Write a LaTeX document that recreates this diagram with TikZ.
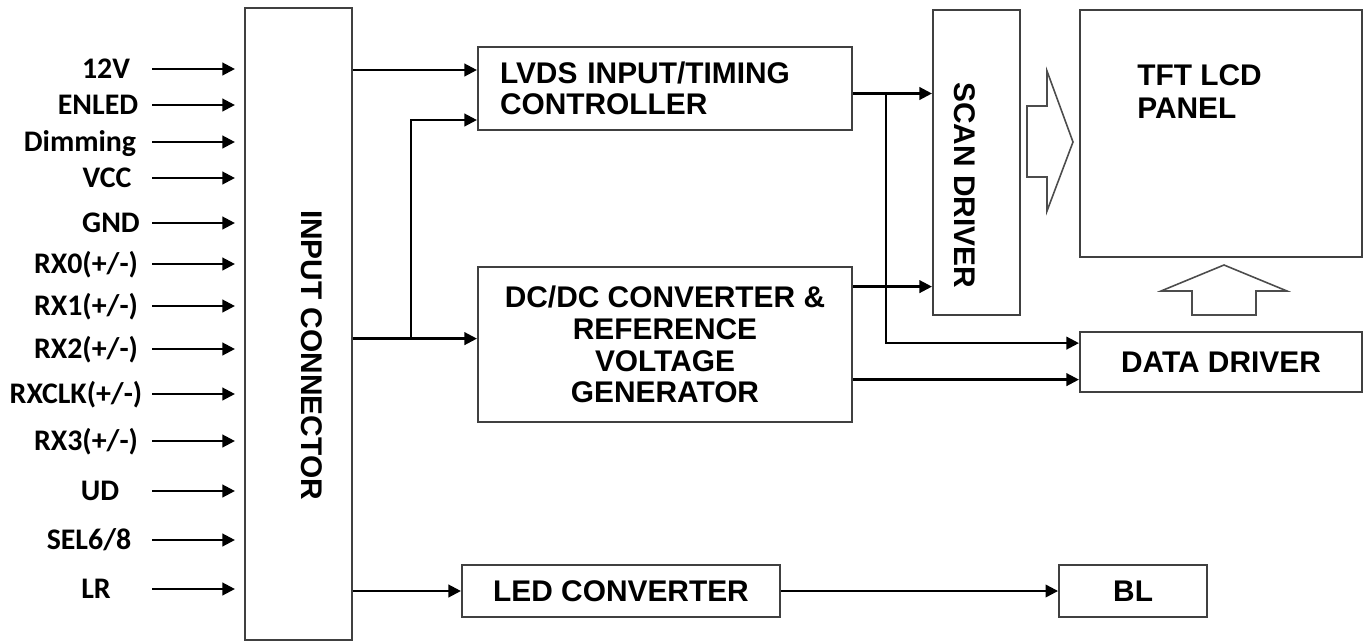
\documentclass[tikz,border=0pt]{standalone}
\usepackage{fontspec}
\setmainfont{Liberation Sans}
\newfontfamily\pinfont{Carlito}
\usepackage{tikz}
\usetikzlibrary{arrows.meta, positioning, calc}

\begin{document}
\begin{tikzpicture}[
    node distance=0.7cm,
    block/.style={draw=black!75, line width=1.2pt, inner sep=0pt, align=center, font=\fontsize{17}{18}\selectfont\bfseries},
    sig/.style={font=\pinfont\fontsize{17}{18}\selectfont\bfseries, text height=0.386cm, text depth=0pt, inner sep=0pt},
    tag/.style={font=\fontsize{17}{18}\selectfont\bfseries, inner sep=0pt},
    line/.style={-{Triangle[length=0.25cm, width=0.25cm]}, line width=1.3pt},
    hollow/.style={draw=black!70, line width=0.9pt, line join=miter}
]
\useasboundingbox (0,0) rectangle (27.38,-12.84);

% Input connector
\node[block, minimum width=2.14cm, minimum height=12.64cm] (conn) at (5.97,-6.48) {};
\node[tag, rotate=-90] (connlbl) at (6.24,-7.1) {INPUT CONNECTOR};

% Input signals
\coordinate (sigstart) at (3.04,0);
\foreach \name/\txt/\x/\y in {v12/12V/2.12/-1.38, enled/ENLED/1.96/-2.1, dim/Dimming/1.6/-2.84,
    vcc/VCC/2.14/-3.56, gnd/GND/2.22/-4.46, rx0/{RX0(+/-)}/1.72/-5.28, rx1/{RX1(+/-)}/1.72/-6.12,
    rx2/{RX2(+/-)}/1.72/-6.98, rxclk/{RXCLK(+/-)}/1.52/-7.88, rx3/{RX3(+/-)}/1.72/-8.82,
    ud/UD/2.0/-9.82, sel/{SEL6/8}/1.78/-10.8, lr/LR/1.92/-11.78}{
    \node[sig] (\name) at (\x,\y) {\txt};
    \draw[line, shorten >=0.18cm] (\name -| sigstart) -- (\name -| conn.west);
}

% Controller and converters
\node[block, minimum width=7.48cm, minimum height=1.66cm, text width=6.6cm, align=left] (lvds) at (13.3,-1.77) {LVDS INPUT/TIMING\\CONTROLLER};
\node[block, minimum width=7.48cm, minimum height=3.1cm, below=2.7cm of lvds] (dcdc) {DC/DC CONVERTER \&\\REFERENCE\\VOLTAGE\\GENERATOR};
\node[block, minimum width=6.36cm, minimum height=1.04cm] (led) at (12.42,-11.82) {LED CONVERTER};
\node[block, minimum width=2.96cm, minimum height=1.04cm, right=5.54cm of led] (bl) {BL};

% Drivers and panel
\node[block, minimum width=1.74cm, minimum height=6.1cm] (scan) at (19.53,-3.25) {};
\node[tag, rotate=-90] (scanlbl) at (19.3,-3.7) {SCAN DRIVER};
\node[block, minimum width=5.64cm, minimum height=4.94cm] (panel) at (24.42,-2.67) {};
\node[tag, anchor=west, align=left, font=\fontsize{17}{19}\selectfont\bfseries] (panellbl) at (22.74,-1.83) {TFT LCD\\PANEL};
\node[block, minimum width=5.64cm, minimum height=1.2cm, below=1.46cm of panel] (data) {DATA DRIVER};

% Arrows
\draw[line] ([yshift=0.37cm]lvds.west -| conn.east) -- ([yshift=0.37cm]lvds.west);
\draw[line] ([yshift=0.12cm]dcdc.west -| conn.east) -- ([yshift=0.12cm]dcdc.west);
\coordinate (split) at ([yshift=0.12cm]dcdc.west -| 8.22,0);
\draw[line] (split) |- ([yshift=-0.63cm]lvds.west);
\draw[line] (led.west -| conn.east) -- (led);
\draw[line] (led) -- (bl);

\draw[line] ([yshift=-0.1cm]lvds.east) -- ([yshift=-0.1cm]lvds.east -| scan.west);
\coordinate (tap) at ([yshift=-0.1cm]lvds.east -| 17.72,0);
\draw[line] (tap) |- ([yshift=0.38cm]data.west);
\draw[line] ([yshift=1.16cm]dcdc.east) -- ([yshift=1.16cm]dcdc.east -| scan.west);
\draw[line] ([yshift=-0.7cm]dcdc.east) -- ([yshift=-0.7cm]dcdc.east -| data.west);

% Hollow arrows
\draw[hollow] (20.54,-2.12) -- (20.94,-2.12) -- (20.94,-1.42) -- (21.46,-2.84) -- (20.94,-4.22) -- (20.94,-3.54) -- (20.54,-3.54) -- cycle;
\draw[hollow] (23.84,-6.3) -- (23.84,-5.82) -- (23.22,-5.82) -- (24.48,-5.3) -- (25.74,-5.82) -- (25.12,-5.82) -- (25.12,-6.3) -- cycle;

\end{tikzpicture}
\end{document}
